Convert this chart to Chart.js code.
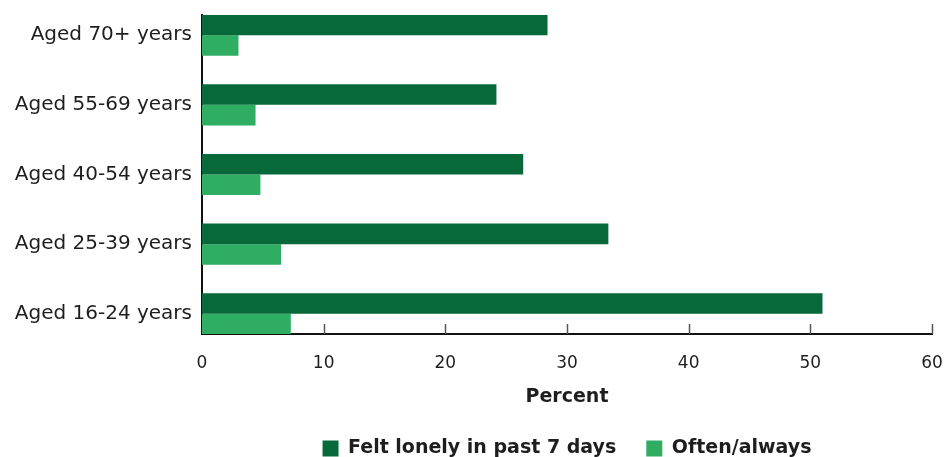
<!DOCTYPE html>
<html>
<head>
<meta charset="utf-8">
<script src="https://cdn.jsdelivr.net/npm/chart.js@4"></script>
<style>
  html, body { margin: 0; padding: 0; background: #fff; overflow: hidden; }
  .wrap { width: 946px; height: 457px; overflow: hidden; }
  .inner { width: 946px; height: 468px; position: relative; }
</style>
</head>
<body>
<div class="wrap"><div class="inner"><canvas id="lonelyChart"></canvas></div></div>
<script>
const categories = ["Aged 70+ years", "Aged 55-69 years", "Aged 40-54 years", "Aged 25-39 years", "Aged 16-24 years"];
const feltLonely = [28.4, 24.2, 26.4, 33.4, 51.0];
const oftenAlways = [3.0, 4.4, 4.8, 6.5, 7.3];
const xTicks = [0, 10, 20, 30, 40, 50, 60];

const darkGreen = '#07693a',
lightGreen = '#2fad62',
textColor = '#1e1e1e',
fontFamily = '"DejaVu Sans", sans-serif';

// linear index axis so the rows can sit exactly like the original
const toPoints = arr => arr.map((v, i) => ({ x: v, y: i }));

// short tick marks pointing up from the x axis
const innerTicks = {
    id: 'innerTicks',
    afterDatasetsDraw(chart) {
        const ctx = chart.ctx, xs = chart.scales.x, bottom = chart.chartArea.bottom;
        ctx.save();
        ctx.strokeStyle = '#555';
        ctx.lineWidth = 1.5;
        xTicks.slice(1).forEach(v => {
            const px = Math.round(xs.getPixelForValue(v)) + 0.5;
            ctx.beginPath();
            ctx.moveTo(px, bottom - 10);
            ctx.lineTo(px, bottom);
            ctx.stroke();
        });
        ctx.restore();
    }
};

const ctx = document.getElementById('lonelyChart').getContext('2d');
const lonelyChart = new Chart(ctx, {
    type: 'bar',
    data: {
        datasets: [{
            label: 'Felt lonely in past 7 days',
            data: toPoints(feltLonely),
            backgroundColor: darkGreen,
        }, {
            label: 'Often/always',
            data: toPoints(oftenAlways),
            backgroundColor: lightGreen,
        }],
    },
    options: {
        indexAxis: 'y',
        responsive: true,
        maintainAspectRatio: false,
        animation: false,
        categoryPercentage: 0.59,
        barPercentage: 1,
        layout: { padding: { top: 15, right: 14, left: 0, bottom: 0 } },
        scales: {
            x: {
                type: 'linear',
                min: 0,
                max: 60,
                z: 1,
                afterFit: s => { s.height = 75; s.paddingLeft = 0; s.paddingRight = 0; },
                afterBuildTicks: s => { s.ticks = xTicks.map(v => ({ value: v })); },
                grid: { display: false, drawTicks: false },
                border: { display: true, color: '#111', width: 2 },
                ticks: { color: textColor, padding: 19, font: { family: fontFamily, size: 17 } },
                title: {
                    display: true,
                    text: 'Percent',
                    color: textColor,
                    padding: { top: 0, bottom: 2.5 },
                    font: { family: fontFamily, size: 19, weight: 'bold', lineHeight: 1 },
                },
            },
            y: {
                type: 'linear',
                reverse: true,
                offset: false,
                min: -0.29,
                max: 4.29,
                z: 1,
                afterFit: s => { s.width = 202; s.paddingTop = 0; s.paddingBottom = 0; },
                afterBuildTicks: s => { s.ticks = categories.map((c, i) => ({ value: i })); },
                grid: { display: false, drawTicks: false, offset: false },
                border: { display: true, color: '#111', width: 2 },
                ticks: {
                    color: textColor,
                    padding: 10,
                    font: { family: fontFamily, size: 20 },
                    callback: v => categories[v],
                },
            },
        },
        plugins: {
            legend: {
                position: 'bottom',
                fullSize: false,
                labels: {
                    color: textColor,
                    boxWidth: 16,
                    boxHeight: 16,
                    padding: 30,
                    font: { family: fontFamily, size: 19, weight: 'bold' },
                },
            },
            tooltip: { enabled: false },
        },
    },
    plugins: [innerTicks],
});
</script>
</body>
</html>
